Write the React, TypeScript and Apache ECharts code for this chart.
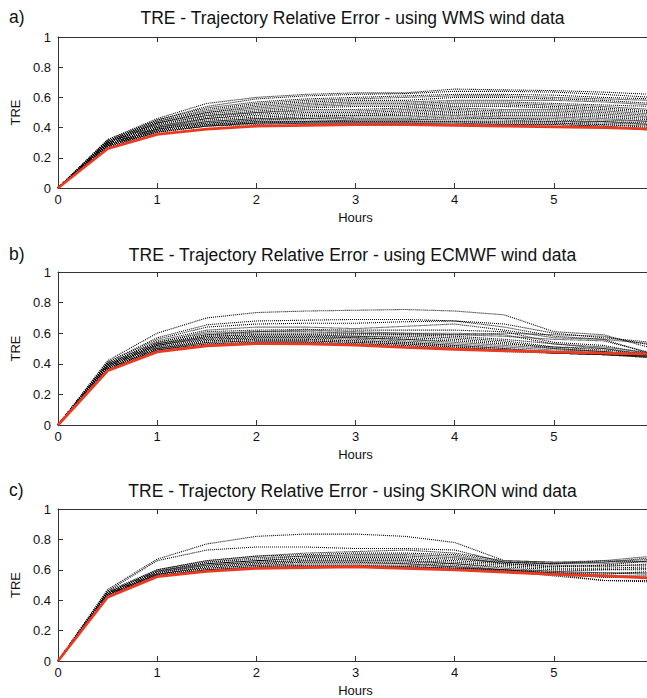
import React, { useEffect, useRef } from "react";
import * as echarts from "echarts";

const hours = [0, 0.5, 1, 1.5, 2, 2.5, 3, 3.5, 4, 4.5, 5, 5.5, 6];
const xTicks = [0, 1, 2, 3, 4, 5, 6];
const yTicks = [0, 0.2, 0.4, 0.6, 0.8, 1];

const panelTitles = [
  "TRE - Trajectory Relative Error - using WMS wind data",
  "TRE - Trajectory Relative Error - using ECMWF wind data",
  "TRE - Trajectory Relative Error - using SKIRON wind data",
];
const panelLetters = ["a)", "b)", "c)"];

// Panel a) WMS ensemble members
const wmsMembers = [
  [0, 0.32, 0.46, 0.56, 0.6, 0.62, 0.63, 0.63, 0.655, 0.65, 0.645, 0.635, 0.62],
  [0, 0.32, 0.45, 0.54, 0.59, 0.61, 0.62, 0.625, 0.64, 0.64, 0.635, 0.62, 0.6],
  [0, 0.31, 0.45, 0.53, 0.57, 0.59, 0.6, 0.61, 0.62, 0.62, 0.615, 0.6, 0.59],
  [0, 0.31, 0.44, 0.52, 0.56, 0.58, 0.59, 0.6, 0.61, 0.61, 0.6, 0.59, 0.58],
  [0, 0.31, 0.44, 0.51, 0.55, 0.57, 0.58, 0.58, 0.6, 0.6, 0.59, 0.58, 0.56],
  [0, 0.31, 0.43, 0.5, 0.54, 0.56, 0.57, 0.57, 0.58, 0.58, 0.58, 0.57, 0.55],
  [0, 0.3, 0.43, 0.5, 0.53, 0.55, 0.56, 0.56, 0.57, 0.57, 0.56, 0.55, 0.54],
  [0, 0.3, 0.43, 0.49, 0.52, 0.54, 0.55, 0.55, 0.56, 0.56, 0.55, 0.54, 0.52],
  [0, 0.3, 0.42, 0.48, 0.51, 0.53, 0.54, 0.54, 0.55, 0.55, 0.54, 0.53, 0.51],
  [0, 0.3, 0.42, 0.48, 0.5, 0.52, 0.52, 0.53, 0.54, 0.54, 0.53, 0.52, 0.5],
  [0, 0.3, 0.41, 0.47, 0.5, 0.51, 0.51, 0.52, 0.53, 0.52, 0.52, 0.51, 0.49],
  [0, 0.3, 0.41, 0.46, 0.49, 0.5, 0.5, 0.51, 0.52, 0.51, 0.51, 0.5, 0.48],
  [0, 0.29, 0.4, 0.46, 0.48, 0.49, 0.49, 0.5, 0.51, 0.5, 0.5, 0.49, 0.47],
  [0, 0.29, 0.4, 0.45, 0.47, 0.48, 0.48, 0.49, 0.5, 0.49, 0.49, 0.48, 0.46],
  [0, 0.29, 0.4, 0.44, 0.46, 0.47, 0.48, 0.48, 0.49, 0.48, 0.48, 0.47, 0.45],
  [0, 0.29, 0.39, 0.44, 0.46, 0.46, 0.47, 0.47, 0.48, 0.47, 0.47, 0.46, 0.44],
  [0, 0.29, 0.39, 0.43, 0.45, 0.46, 0.46, 0.46, 0.47, 0.46, 0.46, 0.45, 0.44],
  [0, 0.28, 0.39, 0.43, 0.45, 0.45, 0.45, 0.45, 0.46, 0.46, 0.45, 0.44, 0.43],
  [0, 0.28, 0.38, 0.42, 0.44, 0.44, 0.45, 0.45, 0.45, 0.45, 0.44, 0.44, 0.42],
  [0, 0.28, 0.38, 0.42, 0.44, 0.44, 0.44, 0.44, 0.44, 0.44, 0.44, 0.43, 0.42],
  [0, 0.28, 0.38, 0.42, 0.43, 0.44, 0.44, 0.44, 0.44, 0.43, 0.43, 0.42, 0.41],
  [0, 0.28, 0.37, 0.41, 0.43, 0.43, 0.43, 0.43, 0.43, 0.43, 0.43, 0.42, 0.4],
  [0, 0.27, 0.37, 0.41, 0.43, 0.43, 0.43, 0.43, 0.43, 0.42, 0.42, 0.41, 0.39],
  [0, 0.27, 0.37, 0.41, 0.42, 0.43, 0.43, 0.43, 0.42, 0.42, 0.42, 0.41, 0.38],
];
const wmsReference = [0, 0.26, 0.355, 0.39, 0.41, 0.415, 0.42, 0.42, 0.415, 0.41, 0.405, 0.4, 0.39];

// Panel b) ECMWF ensemble members
const ecmwfMembers = [
  [0, 0.42, 0.6, 0.7, 0.735, 0.745, 0.75, 0.755, 0.745, 0.72, 0.61, 0.59, 0.5],
  [0, 0.41, 0.57, 0.655, 0.68, 0.685, 0.69, 0.69, 0.68, 0.66, 0.6, 0.57, 0.54],
  [0, 0.41, 0.56, 0.64, 0.66, 0.665, 0.665, 0.675, 0.68, 0.64, 0.58, 0.56, 0.53],
  [0, 0.4, 0.55, 0.62, 0.64, 0.64, 0.63, 0.645, 0.66, 0.62, 0.57, 0.56, 0.46],
  [0, 0.4, 0.54, 0.61, 0.62, 0.625, 0.62, 0.62, 0.62, 0.61, 0.54, 0.52, 0.46],
  [0, 0.4, 0.54, 0.6, 0.61, 0.62, 0.61, 0.6, 0.6, 0.59, 0.53, 0.5, 0.45],
  [0, 0.39, 0.53, 0.59, 0.61, 0.61, 0.6, 0.6, 0.59, 0.58, 0.56, 0.55, 0.47],
  [0, 0.39, 0.53, 0.59, 0.6, 0.6, 0.6, 0.59, 0.59, 0.6, 0.59, 0.58, 0.52],
  [0, 0.39, 0.53, 0.58, 0.59, 0.59, 0.59, 0.59, 0.58, 0.56, 0.53, 0.51, 0.47],
  [0, 0.39, 0.52, 0.58, 0.59, 0.59, 0.58, 0.58, 0.57, 0.55, 0.51, 0.5, 0.46],
  [0, 0.38, 0.52, 0.57, 0.58, 0.58, 0.58, 0.57, 0.56, 0.54, 0.5, 0.48, 0.45],
  [0, 0.38, 0.52, 0.57, 0.58, 0.58, 0.57, 0.56, 0.55, 0.53, 0.51, 0.49, 0.46],
  [0, 0.38, 0.51, 0.56, 0.57, 0.57, 0.57, 0.56, 0.54, 0.52, 0.5, 0.48, 0.45],
  [0, 0.38, 0.51, 0.56, 0.57, 0.57, 0.56, 0.55, 0.53, 0.51, 0.49, 0.48, 0.45],
  [0, 0.37, 0.5, 0.55, 0.56, 0.56, 0.55, 0.54, 0.52, 0.5, 0.48, 0.47, 0.44],
  [0, 0.37, 0.5, 0.55, 0.56, 0.56, 0.55, 0.54, 0.52, 0.5, 0.47, 0.46, 0.44],
  [0, 0.37, 0.5, 0.54, 0.55, 0.55, 0.54, 0.53, 0.51, 0.49, 0.47, 0.46, 0.44],
  [0, 0.37, 0.49, 0.54, 0.55, 0.55, 0.54, 0.53, 0.51, 0.49, 0.47, 0.46, 0.45],
  [0, 0.36, 0.49, 0.53, 0.54, 0.54, 0.53, 0.52, 0.5, 0.48, 0.47, 0.46, 0.45],
  [0, 0.36, 0.49, 0.53, 0.54, 0.54, 0.53, 0.52, 0.5, 0.49, 0.48, 0.47, 0.46],
];
const ecmwfReference = [0, 0.355, 0.478, 0.518, 0.532, 0.53, 0.522, 0.508, 0.495, 0.485, 0.476, 0.47, 0.462];

// Panel c) SKIRON ensemble members
const skironMembers = [
  [0, 0.47, 0.67, 0.77, 0.82, 0.835, 0.835, 0.82, 0.78, 0.66, 0.65, 0.65, 0.68],
  [0, 0.46, 0.66, 0.73, 0.75, 0.75, 0.74, 0.74, 0.73, 0.65, 0.64, 0.64, 0.66],
  [0, 0.46, 0.6, 0.66, 0.69, 0.71, 0.72, 0.73, 0.71, 0.66, 0.65, 0.66, 0.69],
  [0, 0.45, 0.6, 0.66, 0.69, 0.7, 0.71, 0.71, 0.7, 0.65, 0.64, 0.65, 0.67],
  [0, 0.45, 0.59, 0.65, 0.68, 0.69, 0.7, 0.7, 0.69, 0.64, 0.62, 0.63, 0.66],
  [0, 0.45, 0.59, 0.65, 0.67, 0.69, 0.69, 0.69, 0.68, 0.64, 0.63, 0.62, 0.64],
  [0, 0.45, 0.59, 0.64, 0.66, 0.68, 0.68, 0.68, 0.67, 0.65, 0.64, 0.66, 0.65],
  [0, 0.44, 0.58, 0.64, 0.66, 0.67, 0.67, 0.67, 0.66, 0.64, 0.62, 0.63, 0.63],
  [0, 0.44, 0.58, 0.63, 0.65, 0.66, 0.66, 0.66, 0.65, 0.63, 0.61, 0.61, 0.62],
  [0, 0.44, 0.58, 0.63, 0.65, 0.66, 0.66, 0.66, 0.64, 0.62, 0.6, 0.6, 0.6],
  [0, 0.44, 0.57, 0.62, 0.64, 0.65, 0.65, 0.65, 0.64, 0.61, 0.59, 0.58, 0.58],
  [0, 0.44, 0.57, 0.62, 0.64, 0.65, 0.65, 0.64, 0.63, 0.6, 0.58, 0.56, 0.56],
  [0, 0.43, 0.57, 0.61, 0.63, 0.64, 0.64, 0.64, 0.62, 0.6, 0.57, 0.53, 0.53],
  [0, 0.43, 0.57, 0.61, 0.63, 0.63, 0.63, 0.63, 0.62, 0.59, 0.56, 0.53, 0.52],
  [0, 0.43, 0.56, 0.6, 0.62, 0.63, 0.63, 0.62, 0.61, 0.59, 0.57, 0.55, 0.55],
  [0, 0.43, 0.56, 0.6, 0.62, 0.62, 0.62, 0.62, 0.61, 0.6, 0.58, 0.57, 0.59],
  [0, 0.43, 0.56, 0.6, 0.61, 0.62, 0.62, 0.62, 0.61, 0.6, 0.59, 0.6, 0.61],
  [0, 0.43, 0.56, 0.59, 0.61, 0.62, 0.62, 0.61, 0.6, 0.59, 0.58, 0.58, 0.57],
];
const skironReference = [0, 0.42, 0.555, 0.59, 0.61, 0.615, 0.62, 0.61, 0.6, 0.585, 0.57, 0.56, 0.545];

const panelMembers = [wmsMembers, ecmwfMembers, skironMembers];
const panelReference = [wmsReference, ecmwfReference, skironReference];

const FONT = "'Liberation Sans', Arial, Helvetica, sans-serif";
const AXIS_COLOR = "#333333";
const TEXT_COLOR = "#111111";

export default function App() {
  const ref = useRef<HTMLDivElement>(null);

  useEffect(() => {
    if (!ref.current) return;
    const chart = echarts.init(ref.current, undefined, { renderer: "svg" });

    const gridLeft = 58;
    const gridWidth = 595;
    const gridTops = [37, 272, 509];
    const gridHeights = [151, 153, 153];
    const titleYs = [18, 255, 491];

    const grids: any[] = [];
    const xAxes: any[] = [];
    const yAxes: any[] = [];
    const series: any[] = [];
    const graphics: any[] = [];

    for (let p = 0; p < 3; p++) {
      grids.push({
        left: gridLeft,
        top: gridTops[p],
        width: gridWidth,
        height: gridHeights[p],
        containLabel: false,
      });
      const axisLine = { show: true, onZero: false, lineStyle: { color: AXIS_COLOR, width: 1 } };
      const axisTick = { show: true, inside: true, length: 5, lineStyle: { color: AXIS_COLOR } };
      xAxes.push({
        type: "value",
        gridIndex: p,
        min: xTicks[0],
        max: xTicks[xTicks.length - 1],
        interval: 1,
        position: "bottom",
        axisLine,
        axisTick,
        splitLine: { show: false },
        axisLabel: { color: TEXT_COLOR, fontFamily: FONT, fontSize: 13, margin: 5 },
        name: "Hours",
        nameLocation: "middle",
        nameGap: 23,
        nameTextStyle: { color: TEXT_COLOR, fontFamily: FONT, fontSize: 13 },
      });
      xAxes.push({
        type: "value",
        gridIndex: p,
        min: xTicks[0],
        max: xTicks[xTicks.length - 1],
        interval: 1,
        position: "top",
        axisLine,
        axisTick,
        splitLine: { show: false },
        axisLabel: { show: false },
      });
      yAxes.push({
        type: "value",
        gridIndex: p,
        min: yTicks[0],
        max: yTicks[yTicks.length - 1],
        interval: 0.2,
        position: "left",
        axisLine,
        axisTick,
        splitLine: { show: false },
        axisLabel: { color: TEXT_COLOR, fontFamily: FONT, fontSize: 13, margin: 7 },
        name: "TRE",
        nameLocation: "middle",
        nameGap: 31,
        nameTextStyle: { color: TEXT_COLOR, fontFamily: FONT, fontSize: 13 },
      });
      yAxes.push({
        type: "value",
        gridIndex: p,
        min: yTicks[0],
        max: yTicks[yTicks.length - 1],
        interval: 0.2,
        position: "right",
        axisLine,
        axisTick,
        splitLine: { show: false },
        axisLabel: { show: false },
      });

      panelMembers[p].forEach((vals, i) => {
        series.push({
          type: "line",
          name: `p${p}-m${i}`,
          xAxisIndex: 2 * p,
          yAxisIndex: 2 * p,
          data: hours.map((h, k) => [h, vals[k]]),
          showSymbol: false,
          symbol: "none",
          lineStyle: { color: "#000000", width: 1.1, type: [1, 1] },
          z: 2,
          silent: true,
        });
      });
      series.push({
        type: "line",
        name: `p${p}-ref`,
        xAxisIndex: 2 * p,
        yAxisIndex: 2 * p,
        data: hours.map((h, k) => [h, panelReference[p][k]]),
        showSymbol: false,
        symbol: "none",
        lineStyle: { color: "#ec3a22", width: 2.8 },
        z: 3,
        silent: true,
      });

      graphics.push({
        type: "text",
        x: gridLeft + gridWidth / 2 - 3,
        y: titleYs[p],
        style: {
          text: panelTitles[p],
          fontFamily: FONT,
          fontSize: 17.5,
          fill: TEXT_COLOR,
          textAlign: "center",
          textVerticalAlign: "middle",
        },
      });
      graphics.push({
        type: "text",
        x: 9,
        y: titleYs[p] - 1,
        style: {
          text: panelLetters[p],
          fontFamily: FONT,
          fontSize: 17.5,
          fill: TEXT_COLOR,
          textAlign: "left",
          textVerticalAlign: "middle",
        },
      });
    }

    chart.setOption({
      animation: false,
      backgroundColor: "#ffffff",
      grid: grids,
      xAxis: xAxes,
      yAxis: yAxes,
      series,
      graphic: graphics,
    });

    return () => chart.dispose();
  }, []);

  return (
    <div
      style={{
        position: "fixed",
        left: 0,
        top: 0,
        width: 647,
        height: 698,
        overflow: "hidden",
        background: "#fff",
      }}
    >
      <div ref={ref} style={{ width: 670, height: 698 }} />
    </div>
  );
}
